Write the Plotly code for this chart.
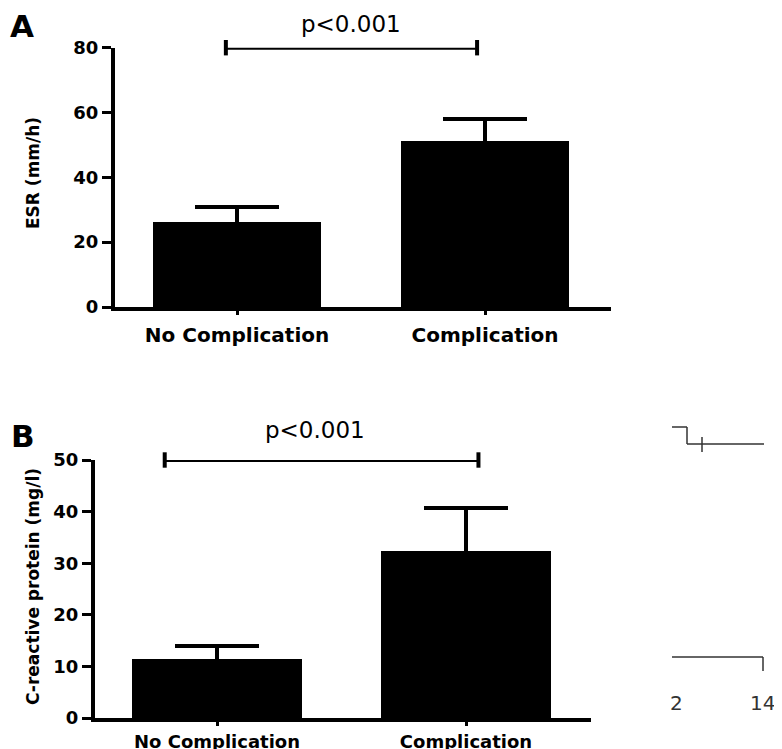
import plotly.graph_objects as go

# ---------------- data ----------------
categories = ["No Complication", "Complication"]
esr_mean = [26.2, 51.2]
esr_sem = [4.6, 6.8]
crp_mean = [11.4, 32.4]
crp_sem = [2.6, 8.3]
esr_ticks = [0, 20, 40, 60, 80]
crp_ticks = [0, 10, 20, 30, 40, 50]
sig_a_x = [-0.045, 0.968]
sig_a_y = [80, 80]
sig_b_x = [-0.21, 1.05]
sig_b_y = [50, 50]
p_label = "p<0.001"

W, H = 782, 749
FONT = "DejaVu Sans"
OFF = 8  # page body margin


def px(x):
    return (x - OFF) / W


def py(y):
    return 1 - (y - OFF) / H


fig = go.Figure()

xs = [0, 1]

# Panel A bars
fig.add_trace(go.Bar(
    x=xs, y=esr_mean, width=0.68, marker=dict(color="black", line=dict(width=0)),
    error_y=dict(type="data", array=esr_sem, color="black", thickness=4, width=42),
    xaxis="x", yaxis="y", showlegend=False, hoverinfo="skip"))

# Panel B bars
fig.add_trace(go.Bar(
    x=xs, y=crp_mean, width=0.68, marker=dict(color="black", line=dict(width=0)),
    error_y=dict(type="data", array=crp_sem, color="black", thickness=4, width=42),
    xaxis="x2", yaxis="y2", showlegend=False, hoverinfo="skip"))

# significance bars
fig.add_trace(go.Scatter(
    x=sig_a_x, y=sig_a_y, mode="lines+markers", cliponaxis=False,
    line=dict(color="black", width=4),
    marker=dict(symbol="line-ns", size=11, line=dict(color="black", width=4)),
    xaxis="x", yaxis="y", showlegend=False, hoverinfo="skip"))
fig.add_trace(go.Scatter(
    x=sig_b_x, y=sig_b_y, mode="lines+markers", cliponaxis=False,
    line=dict(color="black", width=4),
    marker=dict(symbol="line-ns", size=11, line=dict(color="black", width=4)),
    xaxis="x2", yaxis="y2", showlegend=False, hoverinfo="skip"))

base = dict(showline=True, linecolor="black", linewidth=4, showgrid=False,
            zeroline=False, ticks="outside", tickcolor="black", automargin=False)

fig.update_layout(
    width=W, height=H, margin=dict(l=0, r=0, t=0, b=0, autoexpand=False),
    paper_bgcolor="white", plot_bgcolor="white",
    bargap=0,
    xaxis=dict(domain=[px(115), px(611)], range=[-0.492, 1.508],
               tickvals=xs, ticktext=categories, ticklen=4, tickwidth=3,
               ticklabelstandoff=3, anchor="y", **base,
               tickfont=dict(family=FONT, size=20, color="black", weight="bold")),
    yaxis=dict(domain=[py(307), py(47.7)], range=[0, 80], tickvals=esr_ticks,
               ticklen=9, tickwidth=3, anchor="x", **base,
               tickfont=dict(family=FONT, size=18, color="black", weight="bold")),
    xaxis2=dict(domain=[px(95), px(591)], range=[-0.49, 1.502],
                tickvals=xs, ticktext=categories, ticklen=4, tickwidth=3,
                ticklabelstandoff=0, anchor="y2", **base,
                tickfont=dict(family=FONT, size=18, color="black", weight="bold")),
    yaxis2=dict(domain=[py(718), py(460)], range=[0, 50], tickvals=crp_ticks,
                ticklen=9, tickwidth=3, anchor="x2", **base,
                tickfont=dict(family=FONT, size=18, color="black", weight="bold")),
)

annotations = [
    dict(text="A", x=px(8), y=py(26), xref="paper", yref="paper", xanchor="left",
         yanchor="middle", showarrow=False,
         font=dict(family=FONT, size=31, color="black", weight="bold")),
    dict(text="B", x=px(9), y=py(436), xref="paper", yref="paper", xanchor="left",
         yanchor="middle", showarrow=False,
         font=dict(family=FONT, size=31, color="black", weight="bold")),
    dict(text=p_label, x=0.46, y=py(24), xref="x", yref="paper", showarrow=False,
         xanchor="center", yanchor="middle",
         font=dict(family=FONT, size=23, color="black")),
    dict(text=p_label, x=0.395, y=py(430), xref="x2", yref="paper", showarrow=False,
         xanchor="center", yanchor="middle",
         font=dict(family=FONT, size=23, color="black")),
    dict(text="ESR (mm/h)", x=px(33), y=py(173), xref="paper", yref="paper",
         textangle=-90, showarrow=False, xanchor="center", yanchor="middle",
         font=dict(family=FONT, size=17, color="black", weight="bold")),
    dict(text="C-reactive protein (mg/l)", x=px(33), y=py(587), xref="paper",
         yref="paper", textangle=-90, showarrow=False, xanchor="center",
         yanchor="middle",
         font=dict(family=FONT, size=17, color="black", weight="bold")),
    # fragments of a neighbouring figure
    dict(text="2", x=px(676), y=py(703), xref="paper", yref="paper", showarrow=False,
         xanchor="center", yanchor="middle",
         font=dict(family=FONT, size=20, color="#333")),
    dict(text="14", x=px(762), y=py(703), xref="paper", yref="paper", showarrow=False,
         xanchor="center", yanchor="middle",
         font=dict(family=FONT, size=20, color="#333")),
]
fig.update_layout(annotations=annotations)

frag = dict(type="line", xref="paper", yref="paper", line=dict(color="#333", width=1.5))
shapes = [
    dict(x0=px(672), y0=py(427), x1=px(687), y1=py(427), **frag),
    dict(x0=px(687), y0=py(427), x1=px(687), y1=py(444), **frag),
    dict(x0=px(687), y0=py(444), x1=px(764), y1=py(444), **frag),
    dict(x0=px(702), y0=py(437), x1=px(702), y1=py(452), **frag),
    dict(x0=px(672), y0=py(657), x1=px(763), y1=py(657), **frag),
    dict(x0=px(763), y0=py(657), x1=px(763), y1=py(671), **frag),
]
fig.update_layout(shapes=shapes)

fig.write_html("out.html")
